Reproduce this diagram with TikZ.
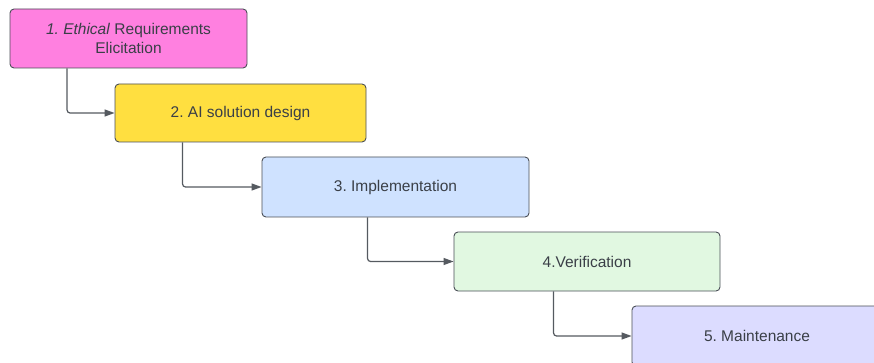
\documentclass[tikz,border=0pt]{standalone}
\usepackage{fontspec}
\setmainfont{Liberation Sans}
\usetikzlibrary{arrows.meta,calc}
\definecolor{pinkc}{HTML}{FF80E0}
\definecolor{yellowc}{HTML}{FFDF40}
\definecolor{bluec}{HTML}{CFE2FF}
\definecolor{greenc}{HTML}{E1F8E1}
\definecolor{lavc}{HTML}{DCDCFF}
\definecolor{bordergray}{HTML}{4A4F57}
\definecolor{textgray}{HTML}{3A3F47}
\definecolor{linegray}{HTML}{555A60}
\frenchspacing
\begin{document}
\begin{tikzpicture}[x=1pt,y=-1pt,
  box/.style={draw=bordergray, line width=0.9pt, rounded corners=4pt, inner sep=0pt,
    font=\fontsize{15.5}{19}\selectfont, text=textgray, align=center},
  conn/.style={draw=linegray, line width=1.2pt, rounded corners=3pt,
    -{Triangle[length=10pt,width=7pt]}}]
\useasboundingbox (0,0) rectangle (874,363);
\fill[white] (0,0) rectangle (874,363);
\node[box, fill=pinkc, minimum width=237pt, minimum height=59pt] (b1) at (128.5,38.5)
  {\textit{1. Ethical} Requirements\\Elicitation};
\node[box, fill=yellowc, minimum width=251pt, minimum height=58pt] (b2) at (240.5,113)
  {2. AI solution design};
\node[box, fill=bluec, minimum width=267pt, minimum height=60pt] (b3) at (395.5,187)
  {3. Implementation};
\node[box, fill=greenc, minimum width=266pt, minimum height=59pt] (b4) at (587,261.5)
  {4.Verification};
\node[box, fill=lavc, minimum width=250pt, minimum height=60pt] (b5) at (757,336)
  {5. Maintenance};
\draw[conn] ($(b1.south west)+(57.5,0)$) |- (b2.west);
\draw[conn] ($(b2.south west)+(68,0)$) |- (b3.west);
\draw[conn] ($(b3.south west)+(106,0)$) |- (b4.west);
\draw[conn] ($(b4.south west)+(100,0)$) |- (b5.west);
\end{tikzpicture}
\end{document}
